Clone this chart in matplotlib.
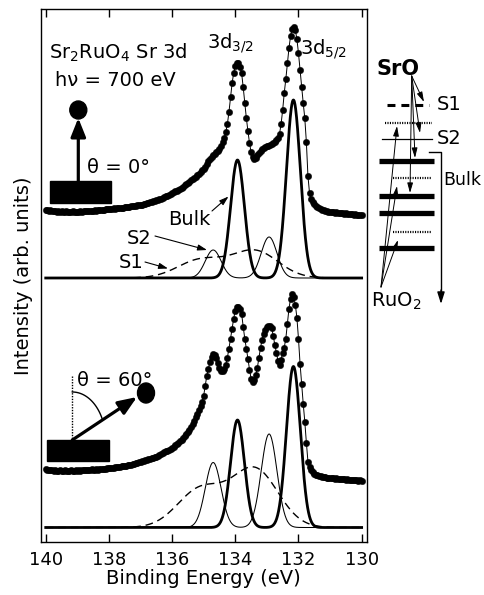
import numpy as np
import matplotlib
matplotlib.use('Agg')
import matplotlib.pyplot as plt
from matplotlib.patches import Rectangle, Ellipse

plt.rcParams['font.family'] = ['DejaVu Sans']
plt.rcParams['mathtext.fontset'] = 'dejavusans'

# ---------------- data ----------------
energy = np.linspace(140.0, 130.0, 201)          # binding energy grid (eV), 0.05 eV step

# theta = 0 deg spectrum (arb. units, relative to its fit baseline)
top_counts = [
    68, 68, 67, 68, 67, 67, 67, 66, 67, 66, 67, 66, 66, 67, 66, 66, 66, 67, 66, 66, 66,
    66, 67, 66, 67, 67, 67, 67, 67, 67, 67, 68, 67, 68, 68, 68, 68, 68, 69, 69, 69,
    69, 69, 70, 69, 70, 70, 70, 70, 70, 71, 71, 71, 71, 72, 72, 72, 72, 73, 73, 73,
    73, 74, 74, 75, 75, 76, 76, 77, 77, 78, 78, 79, 79, 80, 81, 82, 82, 83, 84, 85,
    86, 87, 87, 88, 89, 90, 91, 93, 94, 95, 96, 98, 99, 100, 101, 103, 104, 106, 108, 109,
    111, 114, 117, 119, 121, 123, 124, 126, 127, 129, 132, 136, 140, 146, 154, 166, 181, 195, 205, 212,
    215, 215, 211, 205, 191, 175, 160, 147, 135, 126, 121, 119, 120, 123, 125, 127, 129, 130, 131, 132,
    132, 133, 134, 135, 136, 138, 140, 144, 154, 168, 185, 199, 215, 230, 242, 249, 251, 248, 239, 225,
    208, 191, 175, 160, 136, 102, 85, 79, 76, 74, 72, 71, 70, 69, 68, 68, 67, 67, 66, 66,
    66, 66, 65, 66, 65, 65, 65, 65, 64, 65, 64, 64, 64, 64, 63, 64, 63, 63, 63, 63,
]

# theta = 60 deg spectrum
bottom_counts = [
    59, 58, 58, 58, 58, 57, 58, 57, 57, 58, 57, 57, 58, 57, 57, 57, 58, 57, 57, 58, 57,
    58, 57, 58, 58, 58, 58, 58, 58, 59, 58, 58, 59, 58, 59, 59, 59, 59, 59, 60, 60,
    60, 60, 60, 61, 61, 61, 61, 62, 62, 62, 62, 63, 63, 63, 64, 64, 65, 65, 66, 66,
    67, 67, 68, 68, 69, 69, 70, 70, 71, 71, 72, 73, 74, 75, 76, 77, 77, 78, 79, 80,
    81, 83, 84, 85, 87, 88, 90, 92, 94, 96, 98, 101, 104, 107, 111, 114, 118, 122, 126, 132,
    142, 152, 159, 166, 171, 174, 173, 170, 165, 160, 157, 157, 159, 163, 170, 179, 189, 199, 209, 217,
    221, 221, 219, 214, 201, 189, 179, 169, 158, 149, 146, 148, 153, 160, 170, 180, 188, 194, 198, 201,
    202, 202, 200, 192, 183, 175, 167, 163, 168, 175, 180, 189, 204, 219, 229, 234, 231, 223, 210, 189,
    164, 144, 124, 106, 85, 66, 61, 58, 56, 54, 53, 53, 52, 52, 51, 51, 51, 50, 50, 50,
    50, 50, 49, 50, 49, 49, 49, 49, 49, 48, 49, 48, 48, 48, 48, 48, 48, 47, 48, 47,
]

spectrum_offsets = [263.7, 14.2]   # vertical offsets of the two spectra

# fitted components: (3d3/2, 3d5/2) centres (eV), Gaussian widths (eV), heights
bulk_centers = [133.93, 132.16]
s2_centers = [134.70, 132.93]
s1_centers = [135.10, 133.38]
bulk_sigma, s2_sigma, s1_sigma = 0.22, 0.25, 0.73
top_bulk_heights = [118, 178]
top_s2_heights = [28, 41]
top_s1_heights = [18, 27]
bottom_bulk_heights = [107.5, 161]
bottom_s2_heights = [65, 93.5]
bottom_s1_heights = [38, 58]

xticks = [140, 138, 136, 134, 132, 130]

assert len(top_counts) == 201 and len(bottom_counts) == 201


def doublet(E, centers, heights, sigma):
    out = np.zeros_like(E)
    for c, h in zip(centers, heights):
        out += h * np.exp(-0.5 * ((E - c) / sigma) ** 2)
    return out


# ---------------- figure ----------------
fig = plt.figure(figsize=(4.85, 5.95), dpi=100)
ax = fig.add_axes([41 / 485, (595 - 541.7) / 595, (366.7 - 41) / 485, (541.7 - 9) / 595])

Efine = np.linspace(140.0, 130.0, 1001)
panels = [
    (top_counts, top_bulk_heights, top_s2_heights, top_s1_heights),
    (bottom_counts, bottom_bulk_heights, bottom_s2_heights, bottom_s1_heights),
]
for (counts, bh, s2h, s1h), off in zip(panels, spectrum_offsets):
    ax.plot(Efine, off + doublet(Efine, s1_centers, s1h, s1_sigma), color='k', lw=1.0,
            linestyle=(0, (5.5, 3.5)))
    ax.plot(Efine, off + doublet(Efine, s2_centers, s2h, s2_sigma), color='k', lw=0.75)
    ax.plot(Efine, off + doublet(Efine, bulk_centers, bh, bulk_sigma), color='k', lw=2.0)
    ax.plot(energy, off + np.array(counts), color='k', lw=0.7, marker='o', ms=4.6,
            mfc='k', mec='k', mew=0.3)

ax.set_xlim(140.15, 129.84)
ax.set_ylim(0, 532.7)
ax.set_xticks(xticks)
ax.set_xticklabels([str(t) for t in xticks])
ax.set_yticks([])
ax.tick_params(axis='x', direction='in', length=6, width=1.0, top=True, bottom=True,
               labelsize=13, pad=7)
for s in ax.spines.values():
    s.set_linewidth(1.0)
ax.set_xlabel('Binding Energy (eV)', fontsize=14, labelpad=0)
ax.set_ylabel('Intensity (arb. units)', fontsize=14, labelpad=6)

# ---------------- overlay (annotations & schematics, pixel coords) ----------------
ov = fig.add_axes([0, 0, 1, 1], facecolor='none')
ov.set_xlim(0, 485)
ov.set_ylim(595, 0)
ov.axis('off')


def arrow(x0, y0, x1, y1, lw=0.8, hl=0.55, hw=0.18, ms=10):
    ov.annotate('', xy=(x1, y1), xytext=(x0, y0),
                arrowprops=dict(arrowstyle=f'-|>,head_length={hl},head_width={hw}',
                                lw=lw, color='k', shrinkA=0, shrinkB=0, mutation_scale=ms))


fs = 14
ov.text(49, 59, r'Sr$_2$RuO$_4$ Sr 3d', fontsize=fs, va='baseline')
ov.text(55, 86, 'h\u03bd = 700 eV', fontsize=fs, va='baseline')
ov.text(207, 48, r'3d$_{3/2}$', fontsize=fs, va='baseline')
ov.text(300, 54, r'3d$_{5/2}$', fontsize=fs, va='baseline')

# theta = 0 schematic
ov.add_patch(Rectangle((50, 181), 61, 22, color='k'))
arrow(78.3, 181, 78.3, 118, lw=2.3, hl=0.75, hw=0.3, ms=15)
ov.add_patch(Ellipse((78.3, 110), 17, 18, color='k'))
ov.text(87, 173, '\u03b8 = 0\u00b0', fontsize=fs, va='baseline')

# labels in top panel
ov.text(168, 225, 'Bulk', fontsize=fs, va='baseline')
arrow(212, 211, 228.5, 196.5)
ov.text(127, 244, 'S2', fontsize=fs, va='baseline')
arrow(155, 236, 207, 250)
ov.text(119, 268, 'S1', fontsize=fs, va='baseline')
arrow(145, 262, 168, 268.5)

# theta = 60 schematic
ov.add_patch(Rectangle((47, 440), 62, 21, color='k'))
ov.plot([72.3, 72.3], [376, 440], color='k', lw=1.0, linestyle=(0, (1, 1)))
arrow(72.3, 440, 137, 397, lw=2.3, hl=0.75, hw=0.3, ms=15)
ov.add_patch(Ellipse((146, 393), 17, 20, color='k'))
t = np.linspace(0, np.deg2rad(63), 50)
ov.plot(72.3 + 33.3 * np.sin(t), 440 - 48 * np.cos(t), color='k', lw=1.0)
ov.text(77, 386, '\u03b8 = 60\u00b0', fontsize=fs, va='baseline')

# layer diagram on the right
ov.text(377, 75, 'SrO', fontsize=15, fontweight='bold', va='baseline')
ov.plot([387, 429], [105, 105], color='k', lw=2.2, linestyle=(0, (2.6, 1.95)))
ov.text(437, 105, 'S1', fontsize=fs, va='center')
ov.plot([385, 432], [123.3, 123.3], color='k', lw=1.6, linestyle=(0, (0.5, 0.6)))
ov.plot([382, 432], [139.3, 139.3], color='k', lw=0.9)
ov.text(437, 139, 'S2', fontsize=fs, va='center')
for yy in [160.7, 195.7, 213.3, 248.3]:
    ov.plot([379, 434], [yy, yy], color='k', lw=3.8, solid_capstyle='butt')
for yy in [178.3, 232.0]:
    ov.plot([393, 432], [yy, yy], color='k', lw=1.6, linestyle=(0, (0.5, 0.6)))
ov.text(443, 180, 'Bulk', fontsize=12.5, va='center')
ov.plot([429, 441, 441], [151.7, 151.7, 295], color='k', lw=1.0)
arrow(441, 290, 441, 304, lw=1.0, hl=0.7, hw=0.22, ms=10)

for (xe, ye) in [(424, 102), (420, 133), (415, 158), (410, 193)]:
    arrow(411.7, 76, xe, ye, lw=0.7, hl=0.6, hw=0.17, ms=10)
for (xe, ye) in [(397, 126), (397, 186), (398, 240)]:
    arrow(381, 287, xe, ye, lw=0.7, hl=0.6, hw=0.17, ms=10)
ov.text(371, 307, r'RuO$_2$', fontsize=fs, va='baseline')

fig.savefig('out.png', dpi=100)
